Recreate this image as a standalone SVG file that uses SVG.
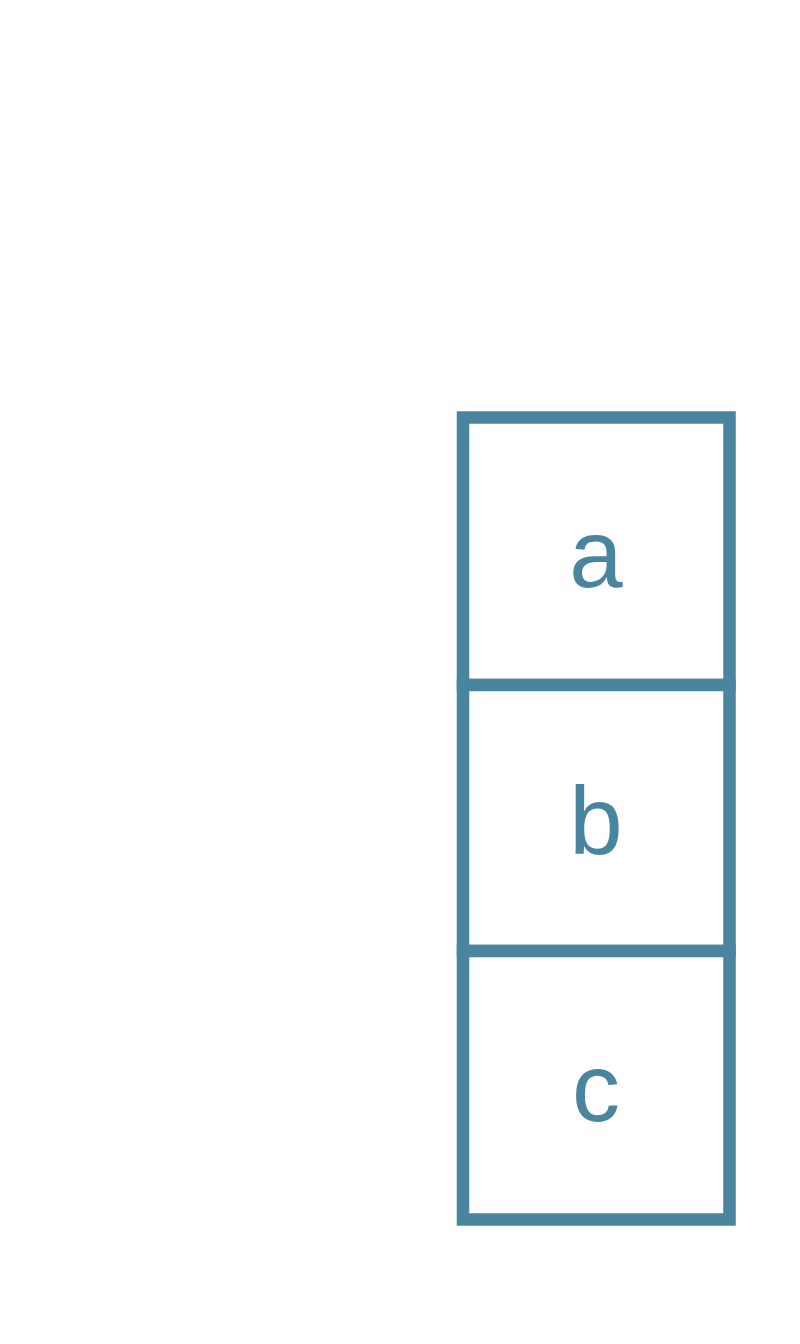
<svg xmlns="http://www.w3.org/2000/svg" width="800" height="1344" viewBox="0 0 800 1344">
<style>
.cell{fill:#ffffff;stroke:#4a85a0;stroke-width:12.5}
.lbl{font-family:"Liberation Sans",Arial,sans-serif;font-size:96px;fill:#4a85a0;text-anchor:middle}
</style>
<rect width="800" height="1344" fill="#ffffff"/>
<g id="node-a"><rect class="cell" x="463" y="417.5" width="266.5" height="267.5"/><text class="lbl" x="596" y="587">a</text></g>
<g id="node-b"><rect class="cell" x="463" y="685" width="266.5" height="266"/><text class="lbl" x="596" y="854">b</text></g>
<g id="node-c"><rect class="cell" x="463" y="951" width="266.5" height="268.5"/><text class="lbl" x="596" y="1121">c</text></g>
<g id="connectors"></g>
</svg>
